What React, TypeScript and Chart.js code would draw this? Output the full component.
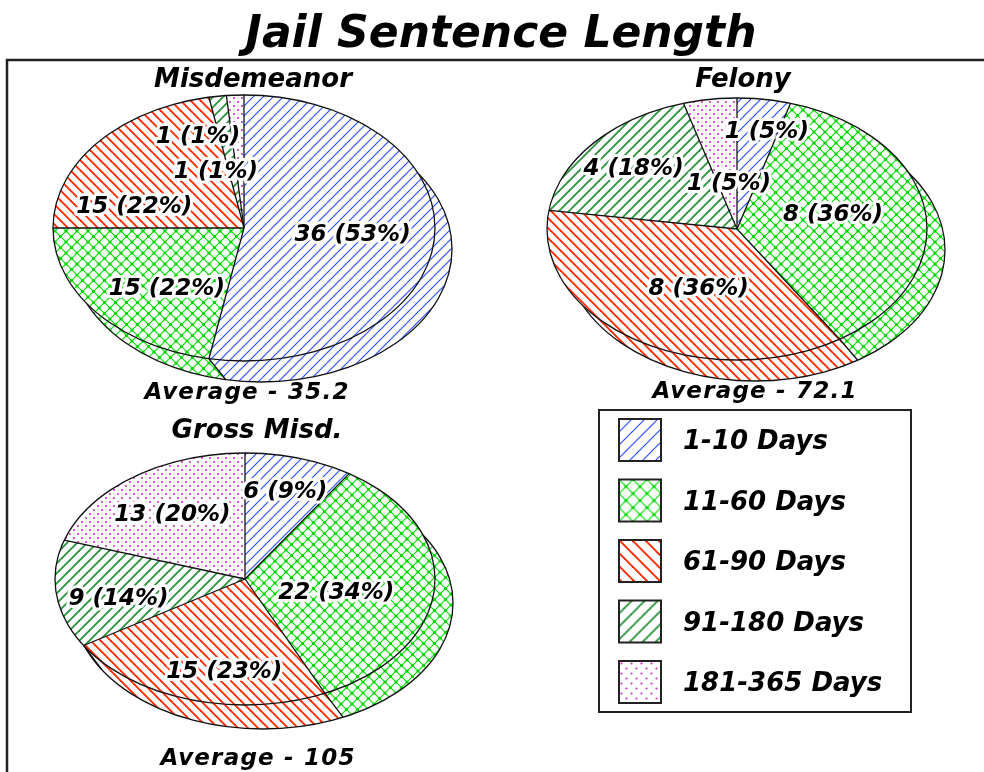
import React, { useEffect, useRef } from "react";
import { Chart, registerables } from "chart.js";
Chart.register(...registerables);

// ---------- data ----------
const categories = ["1-10 Days", "11-60 Days", "61-90 Days", "91-180 Days", "181-365 Days"];
const misdemeanorCounts = [36, 15, 15, 1, 1];
const felonyCounts = [1, 8, 8, 4, 1];
const grossMisdCounts = [6, 22, 15, 9, 13];
const pieNames = ["Misdemeanor", "Felony", "Gross Misd."];
const averageDays = ["35.2", "72.1", "105"];
const mainTitle = "Jail Sentence Length";

const seriesList = [misdemeanorCounts, felonyCounts, grossMisdCounts];

// ---------- layout / style ----------
const W = 984;
const H = 772;
const FONT = "'DejaVu Sans', 'Liberation Sans', sans-serif";
const PATTERN_KINDS = ["blueHatch", "greenCross", "redHatch", "darkGreenHatch", "pinkDots"];

type Layout = {
  cx: number; cy: number; rx: number; ry: number;
  depth: [number, number];
  title: [number, number];
  avg: [number, number];
  labels: [number, number][]; // [angle nudge (deg), radius fraction]
};

const LAYOUT: Layout[] = [
  { cx: 244, cy: 228, rx: 191, ry: 133, depth: [17, 21], title: [253, 87], avg: [247, 399],
    labels: [[-1.5, 0.57], [-8, 0.6], [-23, 0.6], [-11, 0.74], [-16, 0.46]] },
  { cx: 737, cy: 229, rx: 190, ry: 131, depth: [18, 21], title: [743, 87], avg: [755, 398],
    labels: [[3.6, 0.77], [-5.4, 0.52], [-8.4, 0.49], [0, 0.72], [1.5, 0.36]] },
  { cx: 245, cy: 579, rx: 190, ry: 126, depth: [18, 24], title: [257, 438], avg: [258, 765],
    labels: [[0, 0.74], [7.5, 0.49], [-8, 0.73], [-5, 0.68], [0, 0.65]] },
];

const LEGEND_BOX = { x: 599, y: 410, w: 312, h: 302 };

function makeTile(kind: string, scale = 1): HTMLCanvasElement {
  const c = document.createElement("canvas");
  const g = c.getContext("2d")!;
  const diag = (s: number, dir: number, color: string, lw: number) => {
    g.strokeStyle = color;
    g.lineWidth = lw;
    for (let k = -1; k <= 1; k++) {
      g.beginPath();
      if (dir === 1) {
        g.moveTo(k * s - 1, s + 1);
        g.lineTo(k * s + s + 1, -1);
      } else {
        g.moveTo(k * s - 1, -1);
        g.lineTo(k * s + s + 1, s + 1);
      }
      g.stroke();
    }
  };
  const base = kind === "greenCross" ? 11 : kind === "pinkDots" ? 8 : 10;
  const s = Math.round(base * scale);
  c.width = c.height = s;
  g.fillStyle = "#ffffff";
  g.fillRect(0, 0, s, s);
  if (kind === "blueHatch") {
    diag(s, 1, "#2f52ff", 1.2);
  } else if (kind === "greenCross") {
    diag(s, 1, "#00e000", 1.1);
    diag(s, -1, "#00e000", 1.1);
    g.fillStyle = "#00d000";
    for (const [x, y] of [[0, 0], [s, 0], [0, s], [s, s], [s / 2, s / 2]]) {
      g.beginPath();
      g.arc(x, y, 1.6, 0, Math.PI * 2);
      g.fill();
    }
  } else if (kind === "redHatch") {
    diag(s, -1, "#ff2a00", 1.9);
  } else if (kind === "darkGreenHatch") {
    diag(s, 1, "#2e9440", 1.9);
  } else {
    g.fillStyle = "#cc33cc";
    for (const [x, y] of [[s / 4, s / 4], [(3 * s) / 4, (3 * s) / 4]]) {
      g.beginPath();
      g.arc(x, y, 1.1, 0, Math.PI * 2);
      g.fill();
    }
  }
  return c;
}

function drawText(ctx: CanvasRenderingContext2D, text: string, x: number, y: number, size: number,
  align: CanvasTextAlign = "center", halo = false, spacing = 0) {
  ctx.save();
  ctx.font = `italic bold ${size}px ${FONT}`;
  (ctx as any).letterSpacing = `${spacing}px`;
  ctx.textAlign = align;
  ctx.textBaseline = "alphabetic";
  if (halo) {
    ctx.lineWidth = 6;
    ctx.lineJoin = "round";
    ctx.strokeStyle = "#ffffff";
    ctx.strokeText(text, x, y);
  }
  ctx.fillStyle = "#000000";
  ctx.fillText(text, x, y);
  ctx.restore();
}

function createPie(canvas: HTMLCanvasElement, idx: number): Chart {
  const lay = LAYOUT[idx];
  const counts = seriesList[idx];
  const total = counts.reduce((a, b) => a + b, 0);
  const ctx0 = canvas.getContext("2d")!;
  const sy0 = lay.ry / lay.rx;
  const warp = new DOMMatrix().translate(lay.cx, lay.cy).scale(1, 1 / sy0).translate(-lay.cx, -lay.cy);
  const warped = PATTERN_KINDS.map((k) => {
    const p = ctx0.createPattern(makeTile(k), "repeat")!;
    p.setTransform(warp);
    return p;
  });
  const flat = PATTERN_KINDS.map((k) => ctx0.createPattern(makeTile(k), "repeat")!);

  const plugin = {
    id: "pie3d",
    beforeDatasetsDraw(chart: any) {
      const ctx: CanvasRenderingContext2D = chart.ctx;
      const arcs: any[] = chart.getDatasetMeta(0).data;
      const cx = arcs[0].x, cy = arcs[0].y, r = arcs[0].outerRadius;
      const ry = r * sy0;
      const [dx, dy] = lay.depth;
      // bottom face
      ctx.save();
      ctx.translate(cx + dx, cy + dy);
      ctx.scale(1, sy0);
      ctx.translate(-cx, -cy);
      arcs.forEach((a) => a.draw(ctx));
      ctx.restore();
      // side walls
      arcs.forEach((a, i) => {
        ctx.beginPath();
        ctx.ellipse(cx, cy, r, ry, 0, a.startAngle, a.endAngle);
        ctx.ellipse(cx + dx, cy + dy, r, ry, 0, a.endAngle, a.startAngle, true);
        ctx.closePath();
        ctx.fillStyle = flat[i];
        ctx.fill();
      });
      ctx.strokeStyle = "#111";
      ctx.lineWidth = 1.3;
      ctx.beginPath();
      ctx.ellipse(cx + dx, cy + dy, r, ry, 0, 0, Math.PI * 2);
      ctx.stroke();
      arcs.forEach((a) => {
        const px = cx + r * Math.cos(a.startAngle);
        const py = cy + ry * Math.sin(a.startAngle);
        ctx.beginPath();
        ctx.moveTo(px, py);
        ctx.lineTo(px + dx, py + dy);
        ctx.stroke();
      });
      // warp for the top face drawn by Chart.js
      ctx.save();
      ctx.translate(cx, cy);
      ctx.scale(1, sy0);
      ctx.translate(-cx, -cy);
    },
    afterDatasetsDraw(chart: any) {
      const ctx: CanvasRenderingContext2D = chart.ctx;
      ctx.restore();
      const arcs: any[] = chart.getDatasetMeta(0).data;
      const cx = arcs[0].x, cy = arcs[0].y, r = arcs[0].outerRadius;
      const ry = r * sy0;
      ctx.strokeStyle = "#111";
      ctx.lineWidth = 1.3;
      ctx.beginPath();
      ctx.ellipse(cx, cy, r, ry, 0, 0, Math.PI * 2);
      ctx.stroke();
      arcs.forEach((a) => {
        ctx.beginPath();
        ctx.moveTo(cx, cy);
        ctx.lineTo(cx + r * Math.cos(a.startAngle), cy + ry * Math.sin(a.startAngle));
        ctx.stroke();
      });
      // slice labels
      arcs.forEach((a, i) => {
        const [nudge, frac] = lay.labels[i];
        const ang = (a.startAngle + a.endAngle) / 2 + (nudge * Math.PI) / 180;
        const x = cx + frac * r * Math.cos(ang);
        const y = cy + frac * ry * Math.sin(ang);
        const v = counts[i];
        const pct = Math.round((v / total) * 100);
        drawText(ctx, `${v} (${pct}%)`, x, y + 8, 23, "center", true);
      });
    },
    afterDraw(chart: any) {
      const ctx: CanvasRenderingContext2D = chart.ctx;
      drawText(ctx, pieNames[idx], lay.title[0], lay.title[1], 26);
      drawText(ctx, `Average - ${averageDays[idx]}`, lay.avg[0], lay.avg[1], 23, "center", false, 1.2);
      if (idx === 0) {
        ctx.save();
        ctx.strokeStyle = "#222";
        ctx.lineWidth = 2.5;
        ctx.beginPath();
        ctx.moveTo(7, H + 5);
        ctx.lineTo(7, 60);
        ctx.lineTo(W + 5, 60);
        ctx.stroke();
        ctx.restore();
        drawText(ctx, mainTitle, 501, 47, 44);
      }
      if (idx === 1) {
        const b = LEGEND_BOX;
        ctx.save();
        ctx.fillStyle = "#fff";
        ctx.fillRect(b.x, b.y, b.w, b.h);
        ctx.strokeStyle = "#222";
        ctx.lineWidth = 2;
        ctx.strokeRect(b.x, b.y, b.w, b.h);
        const labels: string[] = chart.data.labels;
        labels.forEach((lab, i) => {
          const sx = b.x + 20, syy = b.y + 9 + i * 60.5;
          const pat = ctx.createPattern(makeTile(PATTERN_KINDS[i], 1.3), "repeat")!;
          pat.setTransform(new DOMMatrix().translate(sx, syy));
          ctx.fillStyle = pat;
          ctx.fillRect(sx, syy, 42, 42);
          ctx.strokeStyle = "#222";
          ctx.lineWidth = 2;
          ctx.strokeRect(sx, syy, 42, 42);
          drawText(ctx, lab, b.x + 84, syy + 30, 26, "left");
        });
        ctx.restore();
      }
    },
  };

  return new Chart(canvas, {
    type: "pie",
    data: {
      labels: categories,
      datasets: [
        {
          data: counts,
          backgroundColor: warped as any,
          borderWidth: 0,
          hoverOffset: 0,
          offset: 0,
          clip: false as any,
        },
      ],
    },
    options: {
      responsive: false,
      animation: false,
      devicePixelRatio: 1,
      events: [],
      layout: {
        padding: {
          left: lay.cx - lay.rx,
          right: W - lay.cx - lay.rx,
          top: lay.cy - lay.rx,
          bottom: H - lay.cy - lay.rx,
        },
      },
      plugins: {
        legend: { display: false },
        tooltip: { enabled: false },
        title: { display: false },
      },
    },
    plugins: [plugin as any],
  });
}

export default function App() {
  const r0 = useRef<HTMLCanvasElement>(null);
  const r1 = useRef<HTMLCanvasElement>(null);
  const r2 = useRef<HTMLCanvasElement>(null);
  useEffect(() => {
    const refs = [r0, r1, r2];
    const charts = refs.map((r, i) => createPie(r.current!, i));
    return () => charts.forEach((c) => c.destroy());
  }, []);
  const style: React.CSSProperties = { position: "absolute", left: 0, top: 0 };
  return (
    <div style={{ position: "absolute", left: 0, top: 0, width: W, height: H, background: "#fff", overflow: "hidden" }}>
      <canvas ref={r0} width={W} height={H} style={style} />
      <canvas ref={r1} width={W} height={H} style={style} />
      <canvas ref={r2} width={W} height={H} style={style} />
    </div>
  );
}
